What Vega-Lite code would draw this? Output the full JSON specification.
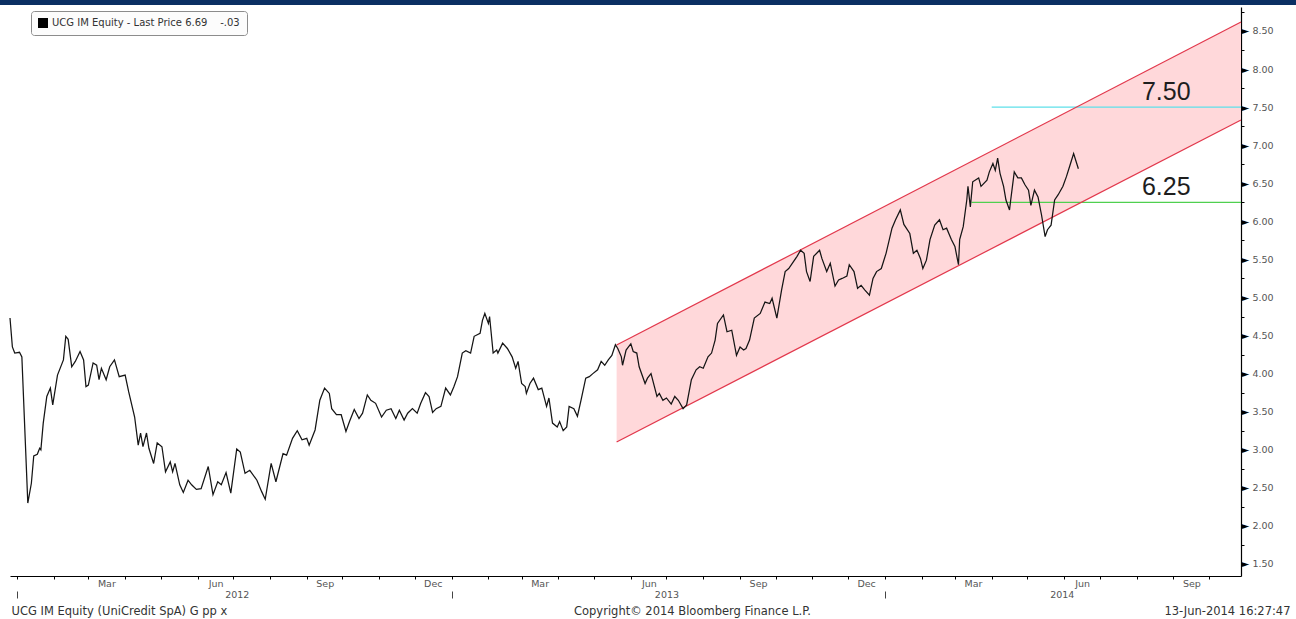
{
  "$schema": "https://vega.github.io/schema/vega-lite/v6.json",
  "width": 1231,
  "height": 569,
  "autosize": {"type": "none"},
  "padding": {"left": 10, "top": 7, "right": 55, "bottom": 43},
  "background": "white",
  "config": {"view": {"stroke": null}, "font": "DejaVu Sans", "axis": {"grid": false}},
  "datasets": {
    "price": [
      {"d":"2011-12-26","p":4.73},{"d":"2011-12-28","p":4.35},{"d":"2011-12-30","p":4.27},{"d":"2012-01-03","p":4.28},{"d":"2012-01-05","p":4.22},
      {"d":"2012-01-10","p":2.30},{"d":"2012-01-13","p":2.56},{"d":"2012-01-15","p":2.92},{"d":"2012-01-18","p":2.94},{"d":"2012-01-20","p":3.02},
      {"d":"2012-01-21","p":3.00},{"d":"2012-01-23","p":3.35},{"d":"2012-01-26","p":3.70},{"d":"2012-01-29","p":3.81},{"d":"2012-01-31","p":3.59},
      {"d":"2012-02-04","p":3.98},{"d":"2012-02-09","p":4.18},{"d":"2012-02-11","p":4.49},{"d":"2012-02-13","p":4.45},{"d":"2012-02-16","p":4.09},
      {"d":"2012-02-19","p":4.16},{"d":"2012-02-23","p":4.29},{"d":"2012-02-26","p":4.18},{"d":"2012-02-28","p":3.83},{"d":"2012-03-01","p":3.85},
      {"d":"2012-03-05","p":4.14},{"d":"2012-03-08","p":4.11},{"d":"2012-03-10","p":3.92},{"d":"2012-03-12","p":4.07},{"d":"2012-03-16","p":3.92},
      {"d":"2012-03-19","p":4.09},{"d":"2012-03-23","p":4.18},{"d":"2012-03-27","p":3.96},{"d":"2012-04-01","p":3.98},{"d":"2012-04-04","p":3.76},
      {"d":"2012-04-09","p":3.43},{"d":"2012-04-12","p":3.06},{"d":"2012-04-14","p":3.22},{"d":"2012-04-16","p":3.04},{"d":"2012-04-19","p":3.22},
      {"d":"2012-04-21","p":3.02},{"d":"2012-04-25","p":2.82},{"d":"2012-04-28","p":3.09},{"d":"2012-05-02","p":3.04},{"d":"2012-05-05","p":2.71},
      {"d":"2012-05-09","p":2.84},{"d":"2012-05-11","p":2.71},{"d":"2012-05-13","p":2.82},{"d":"2012-05-17","p":2.54},{"d":"2012-05-20","p":2.44},
      {"d":"2012-05-24","p":2.60},{"d":"2012-05-27","p":2.54},{"d":"2012-05-31","p":2.48},{"d":"2012-06-04","p":2.49},{"d":"2012-06-10","p":2.78},
      {"d":"2012-06-14","p":2.41},{"d":"2012-06-18","p":2.58},{"d":"2012-06-21","p":2.54},{"d":"2012-06-25","p":2.70},{"d":"2012-06-29","p":2.43},
      {"d":"2012-07-04","p":3.01},{"d":"2012-07-07","p":2.97},{"d":"2012-07-11","p":2.69},{"d":"2012-07-15","p":2.73},{"d":"2012-07-21","p":2.60},
      {"d":"2012-07-25","p":2.45},{"d":"2012-07-28","p":2.35},{"d":"2012-08-02","p":2.82},{"d":"2012-08-06","p":2.58},{"d":"2012-08-12","p":2.95},
      {"d":"2012-08-15","p":2.93},{"d":"2012-08-20","p":3.15},{"d":"2012-08-24","p":3.25},{"d":"2012-08-28","p":3.13},{"d":"2012-09-01","p":3.15},
      {"d":"2012-09-03","p":3.06},{"d":"2012-09-08","p":3.26},{"d":"2012-09-12","p":3.65},{"d":"2012-09-16","p":3.81},{"d":"2012-09-20","p":3.74},
      {"d":"2012-09-22","p":3.54},{"d":"2012-09-26","p":3.46},{"d":"2012-09-30","p":3.46},{"d":"2012-10-04","p":3.24},{"d":"2012-10-07","p":3.37},
      {"d":"2012-10-11","p":3.53},{"d":"2012-10-15","p":3.41},{"d":"2012-10-18","p":3.48},{"d":"2012-10-22","p":3.72},{"d":"2012-10-25","p":3.65},
      {"d":"2012-10-29","p":3.61},{"d":"2012-11-03","p":3.43},{"d":"2012-11-07","p":3.52},{"d":"2012-11-11","p":3.54},{"d":"2012-11-15","p":3.41},
      {"d":"2012-11-18","p":3.52},{"d":"2012-11-22","p":3.39},{"d":"2012-11-25","p":3.48},{"d":"2012-11-29","p":3.54},{"d":"2012-12-03","p":3.48},
      {"d":"2012-12-06","p":3.61},{"d":"2012-12-10","p":3.75},{"d":"2012-12-13","p":3.70},{"d":"2012-12-16","p":3.49},{"d":"2012-12-19","p":3.54},
      {"d":"2012-12-23","p":3.57},{"d":"2012-12-27","p":3.81},{"d":"2012-12-31","p":3.72},{"d":"2013-01-03","p":3.83},{"d":"2013-01-06","p":3.96},
      {"d":"2013-01-10","p":4.27},{"d":"2013-01-13","p":4.30},{"d":"2013-01-17","p":4.27},{"d":"2013-01-20","p":4.49},{"d":"2013-01-25","p":4.53},
      {"d":"2013-01-27","p":4.70},{"d":"2013-01-29","p":4.79},{"d":"2013-02-01","p":4.66},{"d":"2013-02-02","p":4.75},{"d":"2013-02-05","p":4.27},
      {"d":"2013-02-08","p":4.31},{"d":"2013-02-09","p":4.27},{"d":"2013-02-13","p":4.40},{"d":"2013-02-17","p":4.33},{"d":"2013-02-21","p":4.22},
      {"d":"2013-02-24","p":4.07},{"d":"2013-02-26","p":4.16},{"d":"2013-03-01","p":3.87},{"d":"2013-03-04","p":3.83},{"d":"2013-03-05","p":3.74},
      {"d":"2013-03-08","p":3.87},{"d":"2013-03-11","p":3.94},{"d":"2013-03-15","p":3.79},{"d":"2013-03-18","p":3.81},{"d":"2013-03-22","p":3.57},
      {"d":"2013-03-24","p":3.68},{"d":"2013-03-27","p":3.35},{"d":"2013-03-31","p":3.30},{"d":"2013-04-02","p":3.37},{"d":"2013-04-05","p":3.25},
      {"d":"2013-04-08","p":3.30},{"d":"2013-04-10","p":3.57},{"d":"2013-04-14","p":3.54},{"d":"2013-04-17","p":3.44},{"d":"2013-04-20","p":3.65},
      {"d":"2013-04-24","p":3.94},{"d":"2013-04-27","p":3.96},{"d":"2013-04-30","p":4.00},{"d":"2013-05-04","p":4.05},{"d":"2013-05-07","p":4.16},
      {"d":"2013-05-10","p":4.11},{"d":"2013-05-13","p":4.18},{"d":"2013-05-16","p":4.24},{"d":"2013-05-19","p":4.38},{"d":"2013-05-21","p":4.33},
      {"d":"2013-05-24","p":4.22},{"d":"2013-05-25","p":4.11},{"d":"2013-05-28","p":4.31},{"d":"2013-05-30","p":4.35},{"d":"2013-06-01","p":4.39},
      {"d":"2013-06-03","p":4.29},{"d":"2013-06-06","p":4.27},{"d":"2013-06-08","p":4.09},{"d":"2013-06-13","p":3.87},{"d":"2013-06-15","p":3.94},
      {"d":"2013-06-18","p":4.00},{"d":"2013-06-23","p":3.70},{"d":"2013-06-25","p":3.74},{"d":"2013-06-28","p":3.65},{"d":"2013-07-01","p":3.68},
      {"d":"2013-07-05","p":3.60},{"d":"2013-07-08","p":3.70},{"d":"2013-07-11","p":3.65},{"d":"2013-07-15","p":3.54},{"d":"2013-07-18","p":3.59},
      {"d":"2013-07-22","p":3.92},{"d":"2013-07-26","p":4.05},{"d":"2013-07-29","p":4.09},{"d":"2013-08-01","p":4.07},{"d":"2013-08-05","p":4.22},
      {"d":"2013-08-08","p":4.27},{"d":"2013-08-11","p":4.44},{"d":"2013-08-13","p":4.66},{"d":"2013-08-18","p":4.77},{"d":"2013-08-21","p":4.55},
      {"d":"2013-08-25","p":4.57},{"d":"2013-08-29","p":4.24},{"d":"2013-09-01","p":4.35},{"d":"2013-09-04","p":4.31},{"d":"2013-09-06","p":4.33},
      {"d":"2013-09-09","p":4.44},{"d":"2013-09-13","p":4.73},{"d":"2013-09-18","p":4.79},{"d":"2013-09-22","p":4.94},{"d":"2013-09-26","p":4.92},
      {"d":"2013-09-28","p":4.99},{"d":"2013-10-02","p":4.73},{"d":"2013-10-06","p":5.10},{"d":"2013-10-09","p":5.34},{"d":"2013-10-12","p":5.38},
      {"d":"2013-10-16","p":5.47},{"d":"2013-10-19","p":5.54},{"d":"2013-10-22","p":5.62},{"d":"2013-10-25","p":5.58},{"d":"2013-10-27","p":5.34},
      {"d":"2013-10-30","p":5.21},{"d":"2013-11-02","p":5.54},{"d":"2013-11-07","p":5.62},{"d":"2013-11-09","p":5.51},{"d":"2013-11-13","p":5.34},
      {"d":"2013-11-16","p":5.45},{"d":"2013-11-20","p":5.15},{"d":"2013-11-23","p":5.23},{"d":"2013-11-26","p":5.25},{"d":"2013-11-30","p":5.28},
      {"d":"2013-12-02","p":5.43},{"d":"2013-12-06","p":5.34},{"d":"2013-12-09","p":5.12},{"d":"2013-12-12","p":5.16},{"d":"2013-12-15","p":5.10},
      {"d":"2013-12-19","p":5.03},{"d":"2013-12-22","p":5.25},{"d":"2013-12-25","p":5.34},{"d":"2013-12-29","p":5.38},{"d":"2014-01-02","p":5.58},
      {"d":"2014-01-07","p":5.91},{"d":"2014-01-10","p":6.02},{"d":"2014-01-14","p":6.15},{"d":"2014-01-17","p":5.96},{"d":"2014-01-22","p":5.84},
      {"d":"2014-01-25","p":5.58},{"d":"2014-01-28","p":5.62},{"d":"2014-01-31","p":5.51},{"d":"2014-02-02","p":5.38},{"d":"2014-02-05","p":5.49},
      {"d":"2014-02-08","p":5.76},{"d":"2014-02-12","p":5.95},{"d":"2014-02-16","p":6.02},{"d":"2014-02-19","p":5.89},{"d":"2014-02-22","p":5.91},
      {"d":"2014-02-26","p":5.76},{"d":"2014-03-01","p":5.67},{"d":"2014-03-04","p":5.43},{"d":"2014-03-05","p":5.76},{"d":"2014-03-08","p":5.93},
      {"d":"2014-03-11","p":6.28},{"d":"2014-03-12","p":6.46},{"d":"2014-03-14","p":6.19},{"d":"2014-03-16","p":6.52},{"d":"2014-03-21","p":6.57},
      {"d":"2014-03-23","p":6.46},{"d":"2014-03-28","p":6.54},{"d":"2014-03-30","p":6.65},{"d":"2014-04-02","p":6.76},{"d":"2014-04-04","p":6.67},
      {"d":"2014-04-06","p":6.83},{"d":"2014-04-08","p":6.63},{"d":"2014-04-11","p":6.46},{"d":"2014-04-13","p":6.28},{"d":"2014-04-16","p":6.15},
      {"d":"2014-04-17","p":6.28},{"d":"2014-04-20","p":6.65},{"d":"2014-04-23","p":6.57},{"d":"2014-04-26","p":6.57},{"d":"2014-04-29","p":6.48},
      {"d":"2014-05-02","p":6.41},{"d":"2014-05-04","p":6.21},{"d":"2014-05-07","p":6.41},{"d":"2014-05-10","p":6.32},{"d":"2014-05-13","p":6.08},
      {"d":"2014-05-16","p":5.80},{"d":"2014-05-18","p":5.89},{"d":"2014-05-21","p":5.95},{"d":"2014-05-24","p":6.28},{"d":"2014-05-27","p":6.35},
      {"d":"2014-05-31","p":6.46},{"d":"2014-06-03","p":6.59},{"d":"2014-06-06","p":6.74},{"d":"2014-06-09","p":6.89},{"d":"2014-06-13","p":6.69}
    ],
    "channel": [
      {"date": "2013-05-20", "upper": 4.376, "lower": 3.102},
      {"date": "2014-10-28", "upper": 8.618, "lower": 7.331}
    ],
    "levels": [
      {"label": "7.50", "level": 7.5, "start": "2014-04-01"},
      {"label": "6.25", "level": 6.25, "start": "2014-03-15"}
    ]
  },
  "resolve": {"axis": {"x": "independent", "y": "independent"}},
  "layer": [
    {
      "data": {"name": "channel"},
      "mark": {"type": "area", "color": "#ffd8da", "opacity": 1},
      "encoding": {
        "x": {"field": "date", "type": "temporal",
          "scale": {"type": "utc", "domain": [{"year": 2011, "month": 12, "date": 26, "utc": true}, {"year": 2014, "month": 10, "date": 28, "utc": true}]},
          "axis": {"orient": "bottom", "values": [{"year": 2012, "month": 1, "date": 1, "utc": true}, {"year": 2013, "month": 1, "date": 1, "utc": true}, {"year": 2014, "month": 1, "date": 1, "utc": true}],
            "labels": false, "ticks": true, "tickSize": 7, "tickColor": "#444", "tickWidth": 1, "domain": false, "offset": 15,
            "title": "Copyright© 2014 Bloomberg Finance L.P.", "titleX": 682, "titleY": 23, "titleAlign": "center", "titleBaseline": "alphabetic",
            "titleFont": "DejaVu Sans", "titleFontSize": 11.5, "titleFontWeight": "normal", "titleColor": "#333"}},
        "y": {"field": "upper", "type": "quantitative",
          "scale": {"domain": [1.342, 8.815], "nice": false, "zero": false},
          "axis": {"orient": "right", "values": [1.5, 2, 2.5, 3, 3.5, 4, 4.5, 5, 5.5, 6, 6.5, 7, 7.5, 8, 8.5],
            "labelExpr": "'►'", "labelColor": "#000", "labelFont": "DejaVu Sans", "labelFontSize": 10, "labelPadding": 0,
            "labelBaseline": "middle", "ticks": false, "domain": false, "title": null, "labelOverlap": false, "labelFlush": false}},
        "y2": {"field": "lower"}
      }
    },
    {
      "data": {"name": "levels"},
      "mark": {"type": "rule", "strokeWidth": 1.2},
      "encoding": {
        "x": {"field": "start", "type": "temporal",
          "scale": {"type": "utc", "domain": [{"year": 2011, "month": 12, "date": 26, "utc": true}, {"year": 2014, "month": 10, "date": 28, "utc": true}]},
          "axis": null},
        "x2": {"datum": {"year": 2014, "month": 10, "date": 28, "utc": true}},
        "y": {"field": "level", "type": "quantitative", "scale": {"domain": [1.342, 8.815], "nice": false, "zero": false}, "axis": null},
        "color": {"field": "label", "type": "nominal", "scale": {"domain": ["7.50", "6.25"], "range": ["#5ee0ea", "#4fd04f"]}, "legend": null}
      }
    },
    {
      "data": {"name": "channel"},
      "mark": {"type": "line", "color": "#e2384c", "strokeWidth": 1.2},
      "encoding": {
        "x": {"field": "date", "type": "temporal",
          "scale": {"type": "utc", "domain": [{"year": 2011, "month": 12, "date": 26, "utc": true}, {"year": 2014, "month": 10, "date": 28, "utc": true}]},
          "axis": {"orient": "bottom", "values": [{"year": 2012, "month": 7, "date": 4, "utc": true}, {"year": 2013, "month": 7, "date": 1, "utc": true}, {"year": 2014, "month": 5, "date": 30, "utc": true}],
            "labelExpr": "utcFormat(datum.value, '%Y')", "ticks": false, "domain": false, "labelPadding": 13,
            "labelFont": "DejaVu Sans", "labelFontSize": 9.5, "labelColor": "#555", "labelOverlap": false, "labelFlush": false, "labelBound": false,
            "title": "13-Jun-2014 16:27:47", "titleX": 1280, "titleY": 38, "titleAlign": "right", "titleBaseline": "alphabetic",
            "titleFont": "DejaVu Sans", "titleFontSize": 11.5, "titleFontWeight": "normal", "titleColor": "#333"}},
        "y": {"field": "upper", "type": "quantitative",
          "scale": {"domain": [1.342, 8.815], "nice": false, "zero": false},
          "axis": {"orient": "right", "values": [1.75, 2.25, 2.75, 3.25, 3.75, 4.25, 4.75, 5.25, 5.75, 6.25, 6.75, 7.25, 7.75, 8.25, 8.75],
            "labels": false, "ticks": true, "tickSize": 3, "tickColor": "#000", "domain": false, "title": null}}
      }
    },
    {
      "data": {"name": "channel"},
      "mark": {"type": "line", "color": "#e2384c", "strokeWidth": 1.2},
      "encoding": {
        "x": {"field": "date", "type": "temporal",
          "scale": {"type": "utc", "domain": [{"year": 2011, "month": 12, "date": 26, "utc": true}, {"year": 2014, "month": 10, "date": 28, "utc": true}]},
          "axis": null},
        "y": {"field": "lower", "type": "quantitative", "scale": {"domain": [1.342, 8.815], "nice": false, "zero": false}, "axis": null}
      }
    },
    {
      "data": {"name": "price"},
      "mark": {"type": "line", "strokeWidth": 1.25},
      "encoding": {
        "x": {"field": "d", "type": "temporal",
          "scale": {"type": "utc", "domain": [{"year": 2011, "month": 12, "date": 26, "utc": true}, {"year": 2014, "month": 10, "date": 28, "utc": true}]},
          "axis": {"orient": "bottom", "tickCount": {"interval": "month", "step": 1},
            "labelExpr": "indexof(['Mar','Jun','Sep','Dec'], utcFormat(datum.value, '%b')) >= 0 ? utcFormat(datum.value, '%b') : ''",
            "labelOffset": 18, "labelPadding": -1, "labelFont": "DejaVu Sans", "labelFontSize": 9.5, "labelColor": "#555",
            "labelOverlap": false, "labelFlush": false, "labelBound": false,
            "tickSize": 3, "tickColor": "#000", "domainColor": "#000", "domainWidth": 1,
            "title": "UCG IM Equity (UniCredit SpA) G pp x", "titleX": 1, "titleY": 38, "titleAlign": "left", "titleBaseline": "alphabetic",
            "titleFont": "DejaVu Sans", "titleFontSize": 11.5, "titleFontWeight": "normal", "titleColor": "#333"}},
        "y": {"field": "p", "type": "quantitative",
          "scale": {"domain": [1.342, 8.815], "nice": false, "zero": false},
          "axis": {"orient": "right", "values": [1.5, 2, 2.5, 3, 3.5, 4, 4.5, 5, 5.5, 6, 6.5, 7, 7.5, 8, 8.5], "format": ".2f",
            "ticks": false, "domain": true, "domainColor": "#000", "domainWidth": 1.2, "labelPadding": 11,
            "labelFont": "DejaVu Sans", "labelFontSize": 9.5, "labelColor": "#555", "labelBaseline": "middle",
            "labelOverlap": false, "labelFlush": false, "title": null}},
        "stroke": {"datum": "UCG IM Equity - Last Price 6.69\u00a0\u00a0\u00a0\u00a0-.03", "type": "nominal",
          "scale": {"range": ["#151515"]},
          "legend": {"title": null, "orient": "none", "legendX": 21, "legendY": 4, "symbolType": "square", "symbolSize": 100,
            "symbolFillColor": "#000", "symbolStrokeWidth": 0, "labelFont": "DejaVu Sans", "labelFontSize": 10, "labelColor": "#333",
            "labelLimit": 400, "padding": 7, "strokeColor": "#8c8c8c", "fillColor": "#fcfcfc", "cornerRadius": 3,
            "encode": {"symbols": {"update": {"fill": {"value": "#000"}, "stroke": {"value": "#000"}, "strokeWidth": {"value": 0}}}}}}
      }
    },
    {
      "data": {"name": "levels"},
      "mark": {"type": "text", "font": "Liberation Sans", "fontSize": 25, "color": "#1e1e1e", "align": "center", "baseline": "alphabetic", "dy": -7},
      "encoding": {
        "x": {"datum": {"year": 2014, "month": 8, "date": 26, "utc": true}, "type": "temporal",
          "scale": {"type": "utc", "domain": [{"year": 2011, "month": 12, "date": 26, "utc": true}, {"year": 2014, "month": 10, "date": 28, "utc": true}]},
          "axis": null},
        "y": {"field": "level", "type": "quantitative", "scale": {"domain": [1.342, 8.815], "nice": false, "zero": false}, "axis": null},
        "text": {"field": "label"}
      }
    },
    {
      "data": {"values": [{"band": "header"}]},
      "mark": {"type": "rect", "color": "#0b2f63", "clip": false},
      "encoding": {
        "x": {"datum": {"year": 2011, "month": 12, "date": 1, "utc": true}, "type": "temporal",
          "scale": {"type": "utc", "domain": [{"year": 2011, "month": 12, "date": 26, "utc": true}, {"year": 2014, "month": 10, "date": 28, "utc": true}]},
          "axis": null},
        "x2": {"datum": {"year": 2015, "month": 1, "date": 31, "utc": true}},
        "y": {"datum": 8.841, "type": "quantitative", "scale": {"domain": [1.342, 8.815], "nice": false, "zero": false}, "axis": null},
        "y2": {"datum": 9.5}
      }
    }
  ]
}
